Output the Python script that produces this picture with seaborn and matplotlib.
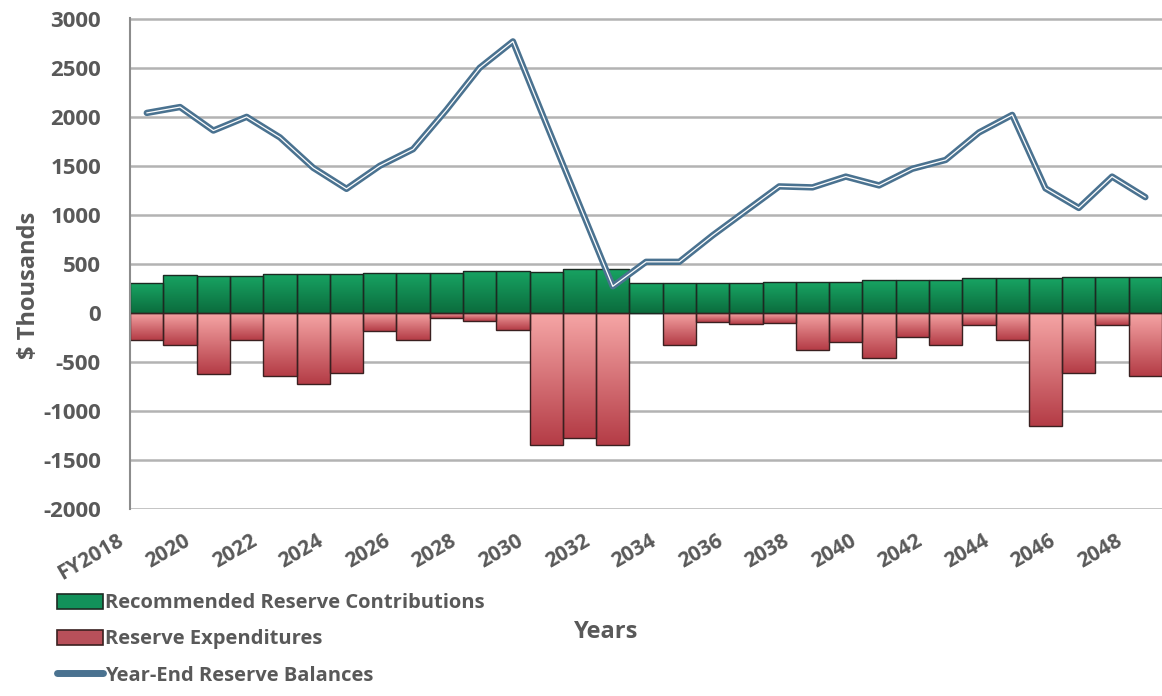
import matplotlib
matplotlib.use("Agg")
import matplotlib.pyplot as plt
import matplotlib.patheffects as pe
import numpy as np
import pandas as pd
import seaborn as sns
from matplotlib.colors import LinearSegmentedColormap
from matplotlib.lines import Line2D
from matplotlib.patches import Patch
from matplotlib.transforms import ScaledTranslation

# Data ($ thousands), FY2018 .. 2048
years = ["FY2018"] + [str(y) for y in range(2019, 2049)]
contributions = [300, 390, 380, 380, 400, 400, 400, 410, 410, 410, 430, 430,
                 420, 450, 450, 300, 300, 300, 300, 310, 310, 310, 330, 330,
                 330, 350, 350, 350, 360, 360, 360]
expenditures = [-280, -330, -620, -280, -650, -730, -610, -185, -280, -50, -80, -175,
                -1345, -1280, -1345, 0, -330, -90, -110, -100, -380, -300, -460, -245,
                -330, -120, -280, -1160, -615, -120, -650]
balances = [2040, 2100, 1860, 2000, 1790, 1480, 1265, 1500, 1670, 2070, 2500, 2770,
            1930, 1100, 270, 520, 520, 790, 1040, 1290, 1280, 1390, 1300, 1470,
            1560, 1840, 2020, 1270, 1070, 1390, 1180]
tick_labels = [y if i % 2 == 0 else "" for i, y in enumerate(years)]

df = pd.DataFrame({"year": years, "contrib": contributions,
                   "expend": expenditures, "balance": balances})
df["pos"] = np.arange(len(df))

TEXT = "#595959"
GRID = "#b3b3b3"
BLUE = "#4a7290"
FONT = ["Open Sans", "DejaVu Sans"]

sns.set_style("white")
plt.rcParams["font.family"] = FONT
plt.rcParams["axes.unicode_minus"] = False

fig = plt.figure(figsize=(11.62, 6.96), dpi=100)
ax = fig.add_axes([0.112, 0.268, 0.888, 0.706])

sns.barplot(data=df, x="year", y="contrib", order=years, color="#12915a",
            width=1.0, edgecolor="#1c2a22", linewidth=1.0, ax=ax, zorder=1.2)
sns.barplot(data=df, x="year", y="expend", order=years, color="#c04a52",
            width=1.0, edgecolor="#3a2020", linewidth=1.0, ax=ax, zorder=1.2)


def fill_gradient(patch, top_color, bottom_color):
    """Paint a vertical gradient inside a bar, keeping its edge."""
    h = patch.get_height()
    if h == 0:
        patch.set_visible(False)
        return
    x0, y0, w = patch.get_x(), patch.get_y(), patch.get_width()
    cmap = LinearSegmentedColormap.from_list("grad", [bottom_color, top_color])
    grad = np.linspace(0, 1, 128).reshape(-1, 1)
    im = ax.imshow(grad, extent=[x0, x0 + w, min(y0, y0 + h), max(y0, y0 + h)],
                   origin="lower", cmap=cmap, aspect="auto", zorder=1.0,
                   interpolation="bilinear")
    im.set_clip_path(patch)
    patch.set_facecolor("none")


n = len(years)
for i, patch in enumerate(ax.patches):
    if i < n:
        fill_gradient(patch, "#18a463", "#0b6c3d")
    else:
        fill_gradient(patch, "#f6a6a6", "#b43c46")

sns.lineplot(x=df["pos"], y=df["balance"], color="white", linewidth=0.9,
             ax=ax, zorder=3,
             path_effects=[pe.Stroke(linewidth=4.6, foreground=BLUE), pe.Normal()])

ax.set_xlim(-0.5, n - 0.5)
ax.set_ylim(-2008, 3008)
ax.set_yticks(range(-2000, 3001, 500))
ax.yaxis.grid(True, color=GRID, linewidth=1.8)
ax.set_axisbelow(True)
for side in ["top", "right", "bottom"]:
    ax.spines[side].set_visible(False)
ax.spines["left"].set_color("#8c8c8c")
ax.spines["left"].set_linewidth(1.5)

ax.tick_params(axis="y", length=6, width=1.2, color="#a0a0a0", direction="inout",
               labelsize=16, labelcolor=TEXT, pad=18)
for lab in ax.get_yticklabels():
    lab.set_fontweight("bold")

ax.set_xticks(range(n))
ax.set_xticklabels(tick_labels)
ax.tick_params(axis="x", length=0, pad=0, labelsize=15, labelcolor=TEXT)
shift = ScaledTranslation(-0.30, -0.21, fig.dpi_scale_trans)
for lab in ax.get_xticklabels():
    lab.set_rotation(30)
    lab.set_ha("right")
    lab.set_va("top")
    lab.set_rotation_mode("anchor")
    lab.set_fontweight("bold")
    lab.set_transform(lab.get_transform() + shift)

ax.set_xlabel("")
ax.set_ylabel("")
fig.text(0.025, 1 - 285 / 696, "$ Thousands", rotation=90, ha="center", va="center",
         fontsize=17, fontweight="bold", color=TEXT)
fig.text(606 / 1162, 1 - 632 / 696, "Years", ha="center", va="center",
         fontsize=17, fontweight="bold", color=TEXT)

handles = [Patch(facecolor="#12915a", edgecolor="#1c2a22", linewidth=1.2),
           Patch(facecolor="#b8505a", edgecolor="#3a2020", linewidth=1.2),
           Line2D([0], [0], color=BLUE, linewidth=5)]
labels = ["Recommended Reserve Contributions", "Reserve Expenditures",
          "Year-End Reserve Balances"]
fig.legend(handles, labels, loc="upper left", bbox_to_anchor=(0.040, 0.162),
           frameon=False, borderpad=0, handlelength=2.3, handleheight=0.75,
           handletextpad=0.1, labelspacing=0.8, labelcolor=TEXT,
           prop={"family": FONT, "weight": "bold", "size": 14.5})

fig.savefig("out.png", dpi=100)
